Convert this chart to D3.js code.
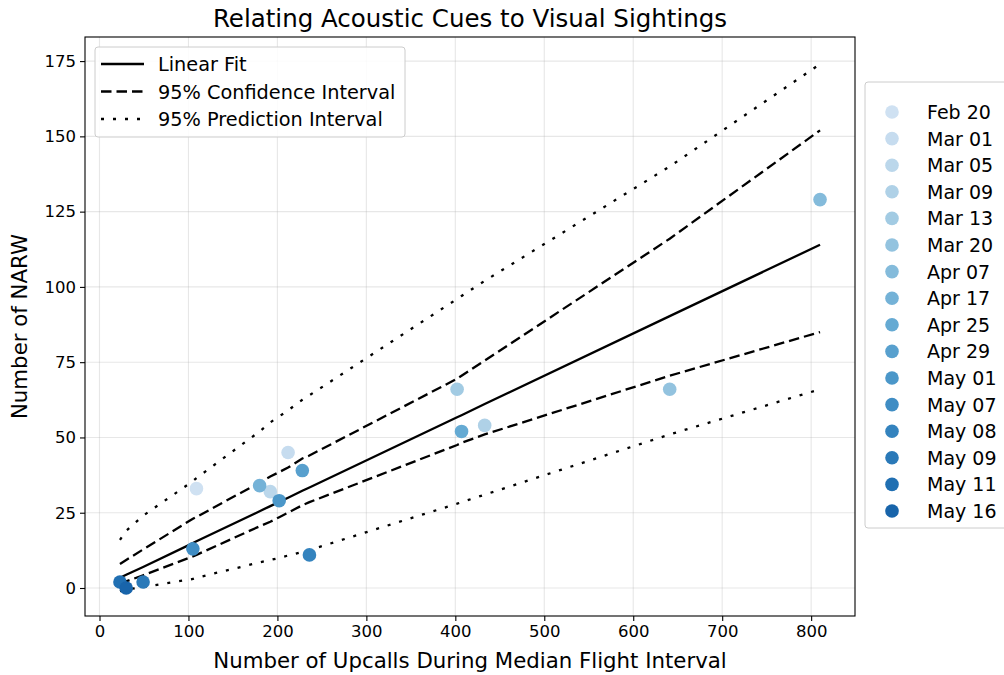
<!DOCTYPE html>
<html><head><meta charset="utf-8">
<script src="https://cdn.jsdelivr.net/npm/d3@7"></script>
<style>body{margin:0;background:#fff;} svg{display:block;font-family:"DejaVu Sans",sans-serif;}</style>
</head><body>
<svg id="c" width="1004" height="675"></svg>
<script>
// Observations (upcalls, NARW count) per survey date
const dates = ["Feb 20","Mar 01","Mar 05","Mar 09","Mar 13","Mar 20","Apr 07","Apr 17","Apr 25","Apr 29","May 01","May 07","May 08","May 09","May 11","May 16"];
const upcalls = [109, 212, 192, 433, 402, 641, 810, 180, 407, 228, 202, 105, 236, 49, 23, 30];
const narw    = [33, 45, 32, 54, 66, 66, 129, 34, 52, 39, 29, 13, 11, 2, 2, 0];

// Fit and intervals evaluated at sorted upcall values
const fitX    = [23, 30, 49, 105, 109, 180, 192, 202, 212, 228, 236, 402, 407, 433, 641, 810];
const fitY    = [3.4, 4.4, 7.0, 14.9, 15.5, 25.5, 27.2, 28.6, 30.0, 32.3, 33.4, 56.7, 57.4, 61.1, 90.3, 114.0];
const ciUpper = [8, 9.3, 12.8, 23, 23.6, 35, 37, 38.5, 40, 43, 44, 69.5, 70.5, 75.5, 116, 152];
const ciLower = [1.2, 2.2, 4.2, 10.5, 11, 20.5, 22, 23.5, 25, 27.5, 28.5, 47.5, 48.2, 51, 70.5, 85];
const piUpper = [16, 19, 24, 35.5, 36.5, 52, 55, 57, 59, 62.5, 64, 96, 97, 102, 140, 174];
const piLower = [-1, -0.5, 0.3, 3, 3.4, 8.5, 9.3, 10, 10.8, 12, 12.6, 28, 28.5, 31, 51, 66];

const xTicks = [0, 100, 200, 300, 400, 500, 600, 700, 800];
const yTicks = [0, 25, 50, 75, 100, 125, 150, 175];

const svg = d3.select("#c");
const L = 85, R = 855, T = 37, B = 616;
const x = d3.scaleLinear().domain([-16.3, 849.3]).range([L, R]);
const y = d3.scaleLinear().domain([-9.3, 183]).range([B, T]);
const color = d3.scaleSequential(d3.interpolateBlues).domain([-0.2 * 15 / 0.6, 15 + 0.2 * 15 / 0.6]);

// grid
const g = svg.append("g");
g.selectAll(".gx").data(xTicks).enter().append("line")
  .attr("x1", d => x(d)).attr("x2", d => x(d)).attr("y1", T).attr("y2", B)
  .attr("stroke", "#b0b0b0").attr("stroke-opacity", 0.3).attr("stroke-width", 1.1);
g.selectAll(".gy").data(yTicks).enter().append("line")
  .attr("y1", d => y(d)).attr("y2", d => y(d)).attr("x1", L).attr("x2", R)
  .attr("stroke", "#b0b0b0").attr("stroke-opacity", 0.3).attr("stroke-width", 1.1);

// lines
const mk = arr => d3.line().x((d, i) => x(fitX[i])).y(d => y(d))(arr);
const dashed = "10.5,5", dotted = "3,9";
const LW = 2.3;
svg.append("path").attr("d", mk(fitY)).attr("fill", "none").attr("stroke", "#000").attr("stroke-width", LW);
[ciUpper, ciLower].forEach(a => svg.append("path").attr("d", mk(a)).attr("fill", "none")
  .attr("stroke", "#000").attr("stroke-width", LW).attr("stroke-dasharray", dashed));
[piUpper, piLower].forEach(a => svg.append("path").attr("d", mk(a)).attr("fill", "none")
  .attr("stroke", "#000").attr("stroke-width", LW).attr("stroke-dasharray", dotted));

// points
svg.selectAll(".pt").data(dates).enter().append("circle")
  .attr("cx", (d, i) => x(upcalls[i])).attr("cy", (d, i) => y(narw[i])).attr("r", 6.8)
  .attr("fill", (d, i) => color(i));

// axes
const ax = svg.append("g").attr("transform", `translate(0,${B})`)
  .call(d3.axisBottom(x).tickValues(xTicks).tickSize(5).tickPadding(4));
const ay = svg.append("g").attr("transform", `translate(${L},0)`)
  .call(d3.axisLeft(y).tickValues(yTicks).tickSize(5).tickPadding(4));
[ax, ay].forEach(a => {
  a.select(".domain").remove();
  a.selectAll("text").attr("font-size", 16.5).attr("fill", "#000").attr("font-family", "DejaVu Sans");
  a.selectAll("line").attr("stroke", "#000").attr("stroke-width", 1.1);
});
svg.append("rect").attr("x", L).attr("y", T).attr("width", R - L).attr("height", B - T)
  .attr("fill", "none").attr("stroke", "#000").attr("stroke-width", 1.1);

// titles
svg.append("text").attr("x", (L + R) / 2).attr("y", 27).attr("text-anchor", "middle")
  .attr("font-size", 24.5).text("Relating Acoustic Cues to Visual Sightings");
svg.append("text").attr("x", (L + R) / 2).attr("y", 668).attr("text-anchor", "middle")
  .attr("font-size", 21.3).text("Number of Upcalls During Median Flight Interval");
svg.append("text").attr("transform", `translate(27,${(T + B) / 2}) rotate(-90)`).attr("text-anchor", "middle")
  .attr("font-size", 21.3).text("Number of NARW");

// line legend
const lg = svg.append("g");
lg.append("rect").attr("x", 95).attr("y", 47).attr("width", 310).attr("height", 90).attr("rx", 3)
  .attr("fill", "#fff").attr("fill-opacity", 0.85).attr("stroke", "#ccc");
const lItems = [["Linear Fit", null], ["95% Confidence Interval", dashed], ["95% Prediction Interval", dotted]];
lItems.forEach((it, i) => {
  const yy = 64 + i * 27.5;
  lg.append("line").attr("x1", 101).attr("x2", 144).attr("y1", yy).attr("y2", yy)
    .attr("stroke", "#000").attr("stroke-width", LW).attr("stroke-dasharray", it[1]);
  lg.append("text").attr("x", 158).attr("y", yy + 7).attr("font-size", 19.3).text(it[0]);
});

// date legend
const dg = svg.append("g");
dg.append("rect").attr("x", 865).attr("y", 82).attr("width", 160).attr("height", 446).attr("rx", 3)
  .attr("fill", "#fff").attr("stroke", "#ccc");
dates.forEach((d, i) => {
  const yy = 112 + i * 26.6;
  dg.append("circle").attr("cx", 892).attr("cy", yy).attr("r", 6.8).attr("fill", color(i));
  dg.append("text").attr("x", 927).attr("y", yy + 7).attr("font-size", 19).text(d);
});
</script>
</body></html>
